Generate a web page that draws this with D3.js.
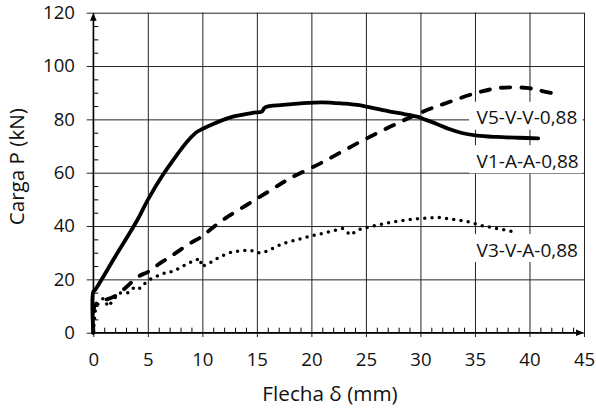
<!DOCTYPE html>
<html>
<head>
<meta charset="utf-8">
<script src="https://cdn.jsdelivr.net/npm/d3@7/dist/d3.min.js"></script>
<style>
  html, body { margin: 0; padding: 0; background: #fff; }
  svg { display: block; font-family: "Open Sans", "Noto Sans", sans-serif; }
</style>
</head>
<body>
<svg id="chart" width="596" height="414"></svg>
<script>
// Load–deflection curves of the three beams
const deflectionV1 = [0, 0, 0.15, 2, 4, 5.05, 6.4, 7.34, 8.2, 8.9, 9.4, 10, 11, 12.8, 14.7, 15.45, 15.75, 17.4, 19, 21, 23, 24.2, 25.5, 27.2, 28.5, 29.7, 30.5, 31.5, 32.7, 33.9, 35.2, 37, 39, 40.8];
const loadV1       = [0, 15.4, 16, 28.5, 42, 50.2, 59.3, 64.8, 69.6, 73, 75, 76.4, 78.3, 81, 82.5, 82.9, 84.5, 85.4, 86, 86.4, 85.9, 85.4, 84.4, 82.9, 82, 81, 79.8, 78.3, 76.3, 74.8, 73.9, 73.4, 73.1, 72.9];

const deflectionV5 = [0, 0.15, 0.6, 1.07, 1.6, 2.14, 3.06, 4.1, 5.05, 6.1, 7, 7.95, 8.87, 9.94, 10.86, 12.1, 14.07, 16.05, 18.05, 21.1, 24.2, 27.2, 30.3, 32.7, 35.2, 37.3, 39.7, 41, 42.4];
const loadV5       = [0, 10.4, 11.5, 12.3, 13, 14.1, 17.2, 21, 22.9, 26, 28.3, 31, 33.5, 36, 39.1, 42.9, 47.9, 52.9, 57.9, 64.1, 71, 77.2, 83, 86.6, 90, 91.8, 91.8, 90.8, 89.5];

const deflectionV3 = [0, 0.1, 0.2, 0.46, 0.92, 1.38, 1.83, 2.3, 3.2, 3.83, 4.28, 4.74, 5.36, 6.1, 6.88, 7.3, 8.1, 9.0, 9.79, 9.94, 10.86, 11.6, 12.8, 14.4, 15, 15.6, 17.4, 18.66, 20, 21.1, 22.9, 23.6, 24.2, 25.4, 27.2, 28.7, 30.3, 31.6, 33, 34.4, 35.8, 37.8, 38.4];
const loadV3       = [0, 5, 9, 11, 12.9, 9.8, 12.3, 14.8, 15, 17.3, 16.6, 18.5, 20.4, 21.6, 22.9, 22.9, 24.7, 26.6, 27.9, 24.7, 26.6, 28.5, 30.4, 31, 30, 30, 33.5, 34.8, 36.3, 37.3, 39.1, 36.6, 38.5, 39.8, 41.3, 42.3, 42.9, 43.3, 42.5, 41.6, 40, 38.5, 38];

const seriesNames = ["V5-V-V-0,88", "V1-A-A-0,88", "V3-V-A-0,88"];
const seriesLabelLoad = [80.6, 64.3, 31.0];   // vertical anchor of each label (kN)
const labelDeflection = 35.15;                 // left edge of the label text (mm)

const xTicks = [0, 5, 10, 15, 20, 25, 30, 35, 40, 45];
const yTicks = [0, 20, 40, 60, 80, 100, 120];
const xMinor = d3.range(0, 45, 1).filter(v => v % 5 !== 0);
const yMinor = d3.range(0, 120, 5).filter(v => v % 20 !== 0);

const xTitle = "Flecha δ (mm)";
const yTitle = "Carga P (kN)";

const svg = d3.select("#chart");
const padL = 93.3, padR = 584, padT = 12.7, padB = 332.7;
const plotW = padR - padL, plotH = padB - padT;

const x = d3.scaleLinear().domain([0, 45]).range([padL, padR]);
const y = d3.scaleLinear().domain([0, 120]).range([padB, padT]);

const gridColor = "#222";
const textColor = "#111";
const tickFont = 18.6;

// major grid + labels, y
const gy = svg.append("g").attr("transform", `translate(${padL},0)`)
  .call(d3.axisLeft(y).tickValues(yTicks).tickSizeInner(-plotW).tickSizeOuter(0).tickPadding(18.3));
gy.select(".domain").remove();
gy.selectAll(".tick line").attr("x1", -6.6).attr("x2", plotW).attr("stroke", gridColor).attr("stroke-width", 1);
gy.selectAll(".tick text").attr("font-size", tickFont).attr("fill", textColor).attr("font-family", "Open Sans");

// major grid + labels, x
const gx = svg.append("g").attr("transform", `translate(0,${padB})`)
  .call(d3.axisBottom(x).tickValues(xTicks).tickSizeInner(-plotH).tickSizeOuter(0).tickPadding(20.6));
gx.select(".domain").remove();
gx.selectAll(".tick line").attr("y1", 4.3).attr("y2", -plotH).attr("stroke", gridColor).attr("stroke-width", 1);
gx.selectAll(".tick text").attr("font-size", tickFont).attr("fill", textColor).attr("font-family", "Open Sans");

// minor ticks pointing into the plot
const my = svg.append("g").attr("transform", `translate(${padL},0)`)
  .call(d3.axisLeft(y).tickValues(yMinor).tickSize(-5).tickFormat(""));
my.select(".domain").remove();
my.selectAll(".tick line").attr("stroke", "#000");
const mx = svg.append("g").attr("transform", `translate(0,${padB})`)
  .call(d3.axisBottom(x).tickValues(xMinor).tickSize(-5).tickFormat(""));
mx.select(".domain").remove();
mx.selectAll(".tick line").attr("stroke", "#000");

// axis lines with arrow heads
svg.append("line").attr("x1", x(0)).attr("x2", x(0)).attr("y1", y(0)).attr("y2", y(120) + 3)
  .attr("stroke", "#000").attr("stroke-width", 1.4);
svg.append("line").attr("x1", x(0)).attr("x2", x(45) - 3).attr("y1", y(0)).attr("y2", y(0))
  .attr("stroke", "#000").attr("stroke-width", 1.4);
svg.append("path")
  .attr("d", `M${x(0)},${y(120)} L${x(0) - 3.3},${y(120) + 8} L${x(0) + 3.3},${y(120) + 8} Z`)
  .attr("fill", "#000");
svg.append("path")
  .attr("d", `M${x(45)},${y(0)} L${x(45) - 8},${y(0) - 3.3} L${x(45) - 8},${y(0) + 3.3} Z`)
  .attr("fill", "#000");

// curves
const zipPts = (xs, ys) => xs.map((v, i) => [v, ys[i]]);
const lineStraight = d3.line().x(d => x(d[0])).y(d => y(d[1])).curve(d3.curveLinear);
const lineSmooth = d3.line().x(d => x(d[0])).y(d => y(d[1])).curve(d3.curveCatmullRom.alpha(0.5));

svg.append("path").datum(zipPts(deflectionV3, loadV3))
  .attr("d", lineStraight).attr("fill", "none").attr("stroke", "#000")
  .attr("stroke-width", 3.5).attr("stroke-linecap", "round").attr("stroke-dasharray", "0 7.3");

svg.append("path").datum(zipPts(deflectionV5, loadV5))
  .attr("d", lineSmooth).attr("fill", "none").attr("stroke", "#000")
  .attr("stroke-width", 3.9).attr("stroke-linecap", "round").attr("stroke-dasharray", "9.3 11.2");

svg.append("path").datum(zipPts(deflectionV1, loadV1))
  .attr("d", lineSmooth).attr("fill", "none").attr("stroke", "#000")
  .attr("stroke-width", 3.8).attr("stroke-linecap", "round").attr("stroke-linejoin", "round");

// series labels on white boxes
const labelX = x(labelDeflection);
seriesNames.forEach((name, i) => {
  const cy = y(seriesLabelLoad[i]);
  svg.append("rect").attr("x", labelX - 7.5).attr("y", cy - 16).attr("width", x(45) - labelX + 6).attr("height", 28)
    .attr("fill", "#fff");
  svg.append("text").attr("x", labelX).attr("y", cy).attr("dy", "0.35em")
    .attr("font-size", 19).attr("fill", textColor).text(name);
});

// axis titles
svg.append("text").attr("x", 330).attr("y", 394).attr("dy", "0.35em")
  .attr("text-anchor", "middle").attr("font-size", 20.7).attr("fill", textColor).text(xTitle);
svg.append("text").attr("transform", "translate(16.5,166.7) rotate(-90)").attr("dy", "0.35em")
  .attr("text-anchor", "middle").attr("font-size", 20.6).attr("fill", textColor).text(yTitle);
</script>
</body>
</html>
